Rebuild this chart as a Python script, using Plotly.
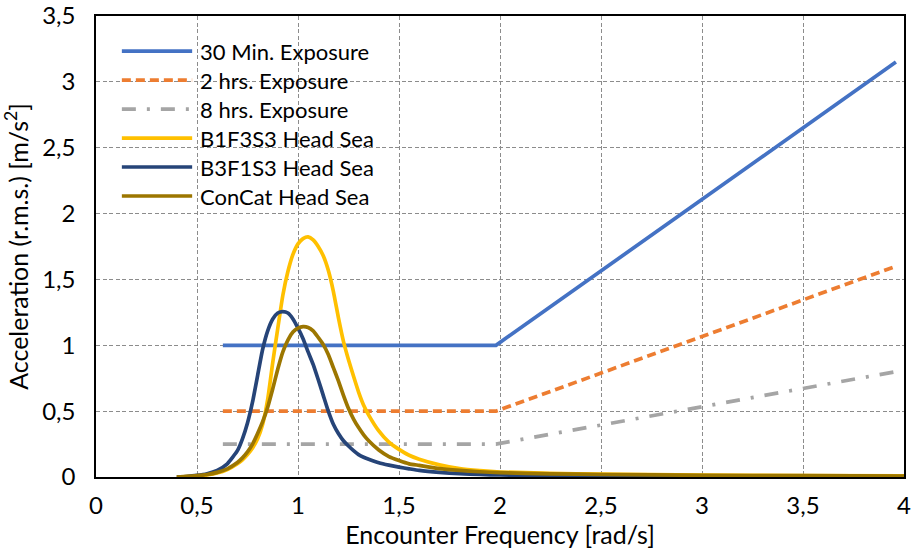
import plotly.graph_objects as go

# ---------------- data ----------------
freq = [0.40, 0.45, 0.50, 0.55, 0.60, 0.65, 0.70, 0.725, 0.75, 0.775, 0.80, 0.825,
        0.85, 0.875, 0.90, 0.925, 0.95, 0.975, 1.00, 1.025, 1.05, 1.075, 1.10, 1.125,
        1.15, 1.175, 1.20, 1.225, 1.25, 1.275, 1.30, 1.325, 1.35, 1.40, 1.45, 1.50,
        1.55, 1.60, 1.70, 1.80, 1.90, 2.00, 2.25, 2.50, 3.00, 3.50, 4.00]

b1f3s3 = [0.000, 0.003, 0.008, 0.016, 0.030, 0.056, 0.100, 0.130, 0.170, 0.220, 0.290, 0.400,
          0.590, 0.870, 1.130, 1.380, 1.560, 1.690, 1.770, 1.810, 1.823, 1.800, 1.750, 1.680,
          1.570, 1.410, 1.210, 1.030, 0.890, 0.765, 0.645, 0.545, 0.470, 0.350, 0.265, 0.210,
          0.165, 0.135, 0.092, 0.063, 0.048, 0.038, 0.028, 0.022, 0.015, 0.011, 0.008]

b3f1s3 = [0.000, 0.004, 0.012, 0.025, 0.050, 0.100, 0.200, 0.290, 0.410, 0.570, 0.770, 0.970,
          1.110, 1.200, 1.245, 1.255, 1.245, 1.200, 1.130, 1.050, 0.950, 0.855, 0.740, 0.620,
          0.500, 0.400, 0.330, 0.275, 0.235, 0.200, 0.170, 0.150, 0.135, 0.108, 0.090, 0.075,
          0.062, 0.050, 0.035, 0.025, 0.019, 0.015, 0.010, 0.007, 0.004, 0.003, 0.002]

concat = [0.000, 0.004, 0.010, 0.019, 0.035, 0.062, 0.110, 0.145, 0.190, 0.250, 0.330, 0.420,
          0.530, 0.670, 0.820, 0.950, 1.040, 1.100, 1.130, 1.141, 1.135, 1.110, 1.060, 1.005,
          0.930, 0.830, 0.730, 0.620, 0.520, 0.440, 0.375, 0.320, 0.275, 0.205, 0.155, 0.125,
          0.100, 0.088, 0.063, 0.050, 0.040, 0.033, 0.024, 0.019, 0.013, 0.010, 0.007]

exp_x = [0.628, 1.98, 3.96]
exp_30min = [1.0, 1.0, 3.15]
exp_2hrs = [0.5, 0.5, 1.6]
exp_8hrs = [0.25, 0.25, 0.8]

x_ticks = [0, 0.5, 1, 1.5, 2, 2.5, 3, 3.5, 4]
x_ticktext = ["0", "0,5", "1", "1,5", "2", "2,5", "3", "3,5", "4"]
y_ticks = [0, 0.5, 1, 1.5, 2, 2.5, 3, 3.5]
y_ticktext = ["0", "0,5", "1", "1,5", "2", "2,5", "3", "3,5"]

names = ["30 Min. Exposure", "2 hrs. Exposure", "8 hrs. Exposure",
         "B1F3S3 Head Sea", "B3F1S3 Head Sea", "ConCat Head Sea"]

# ---------------- styles ----------------
colors = ["#4472C4", "#ED7D31", "#A5A5A5", "#FFC000", "#264478", "#9C7600"]
dashes = ["solid", "9px,5px", "14px,11px,3px,11px", "solid", "solid", "solid"]
shapes_line = ["linear", "linear", "linear", "spline", "spline", "spline"]
FONT = "Lato, Carlito, Calibri, sans-serif"
LW = 3.7

series = [
    (exp_x, exp_30min), (exp_x, exp_2hrs), (exp_x, exp_8hrs),
    (freq, b1f3s3), (freq, b3f1s3), (freq, concat),
]

fig = go.Figure()
for (xs, ys), name, c, d, sh in zip(series, names, colors, dashes, shapes_line):
    line = dict(color=c, width=LW, dash=d, shape=sh)
    if sh == "spline":
        line["smoothing"] = 0.5
    fig.add_trace(go.Scatter(x=xs, y=ys, name=name, mode="lines",
                             line=line, showlegend=False))

# custom legend (white box, long line samples)
shapes = [dict(type="rect", xref="paper", yref="paper", x0=0.005, x1=0.350,
               y0=0.577, y1=0.960, fillcolor="white", line=dict(width=0), layer="between")]
annotations = []
row0 = 0.924
step = 0.0629
for i, (name, c, d) in enumerate(zip(names, colors, dashes)):
    yy = row0 - i * step
    shapes.append(dict(type="line", xref="paper", yref="paper", x0=0.032, x1=0.119,
                       y0=yy, y1=yy, line=dict(color=c, width=LW, dash=d), layer="above"))
    annotations.append(dict(xref="paper", yref="paper", x=0.126, y=yy, text=name,
                            showarrow=False, xanchor="left", yanchor="middle",
                            font=dict(family=FONT, size=22, color="#000000")))

fig.update_layout(
    width=912, height=551,
    margin=dict(l=96, r=8, t=16, b=74, autoexpand=False),
    paper_bgcolor="white", plot_bgcolor="white",
    font=dict(family=FONT, size=24, color="#000000"),
    shapes=shapes, annotations=annotations,
    showlegend=False,
)

axis_common = dict(
    showline=True, linecolor="black", linewidth=1.5, mirror=True,
    showgrid=True, gridcolor="#8C8C8C", gridwidth=1.2, griddash="4px,2.5px",
    zeroline=False, ticks="", automargin=False, ticklabeloverflow="allow",
    tickfont=dict(family=FONT, size=24, color="#000000"),
)

fig.update_xaxes(range=[0, 4], tickvals=x_ticks, ticktext=x_ticktext,
                 ticklabelstandoff=6,
                 title=dict(text="Encounter Frequency [rad/s]", standoff=2,
                            font=dict(family=FONT, size=25, color="#000000")),
                 **axis_common)
fig.update_yaxes(range=[0, 3.5], tickvals=y_ticks, ticktext=y_ticktext,
                 ticklabelstandoff=14,
                 title=dict(text="Acceleration (r.m.s.) [m/s<sup>2</sup>]", standoff=10,
                            font=dict(family=FONT, size=25, color="#000000")),
                 **axis_common)

# remove the page's default 8px body margin so the figure fills the window
fig.write_html("out.html", config={"displayModeBar": False},
               post_script="document.body.style.margin='0px';")
